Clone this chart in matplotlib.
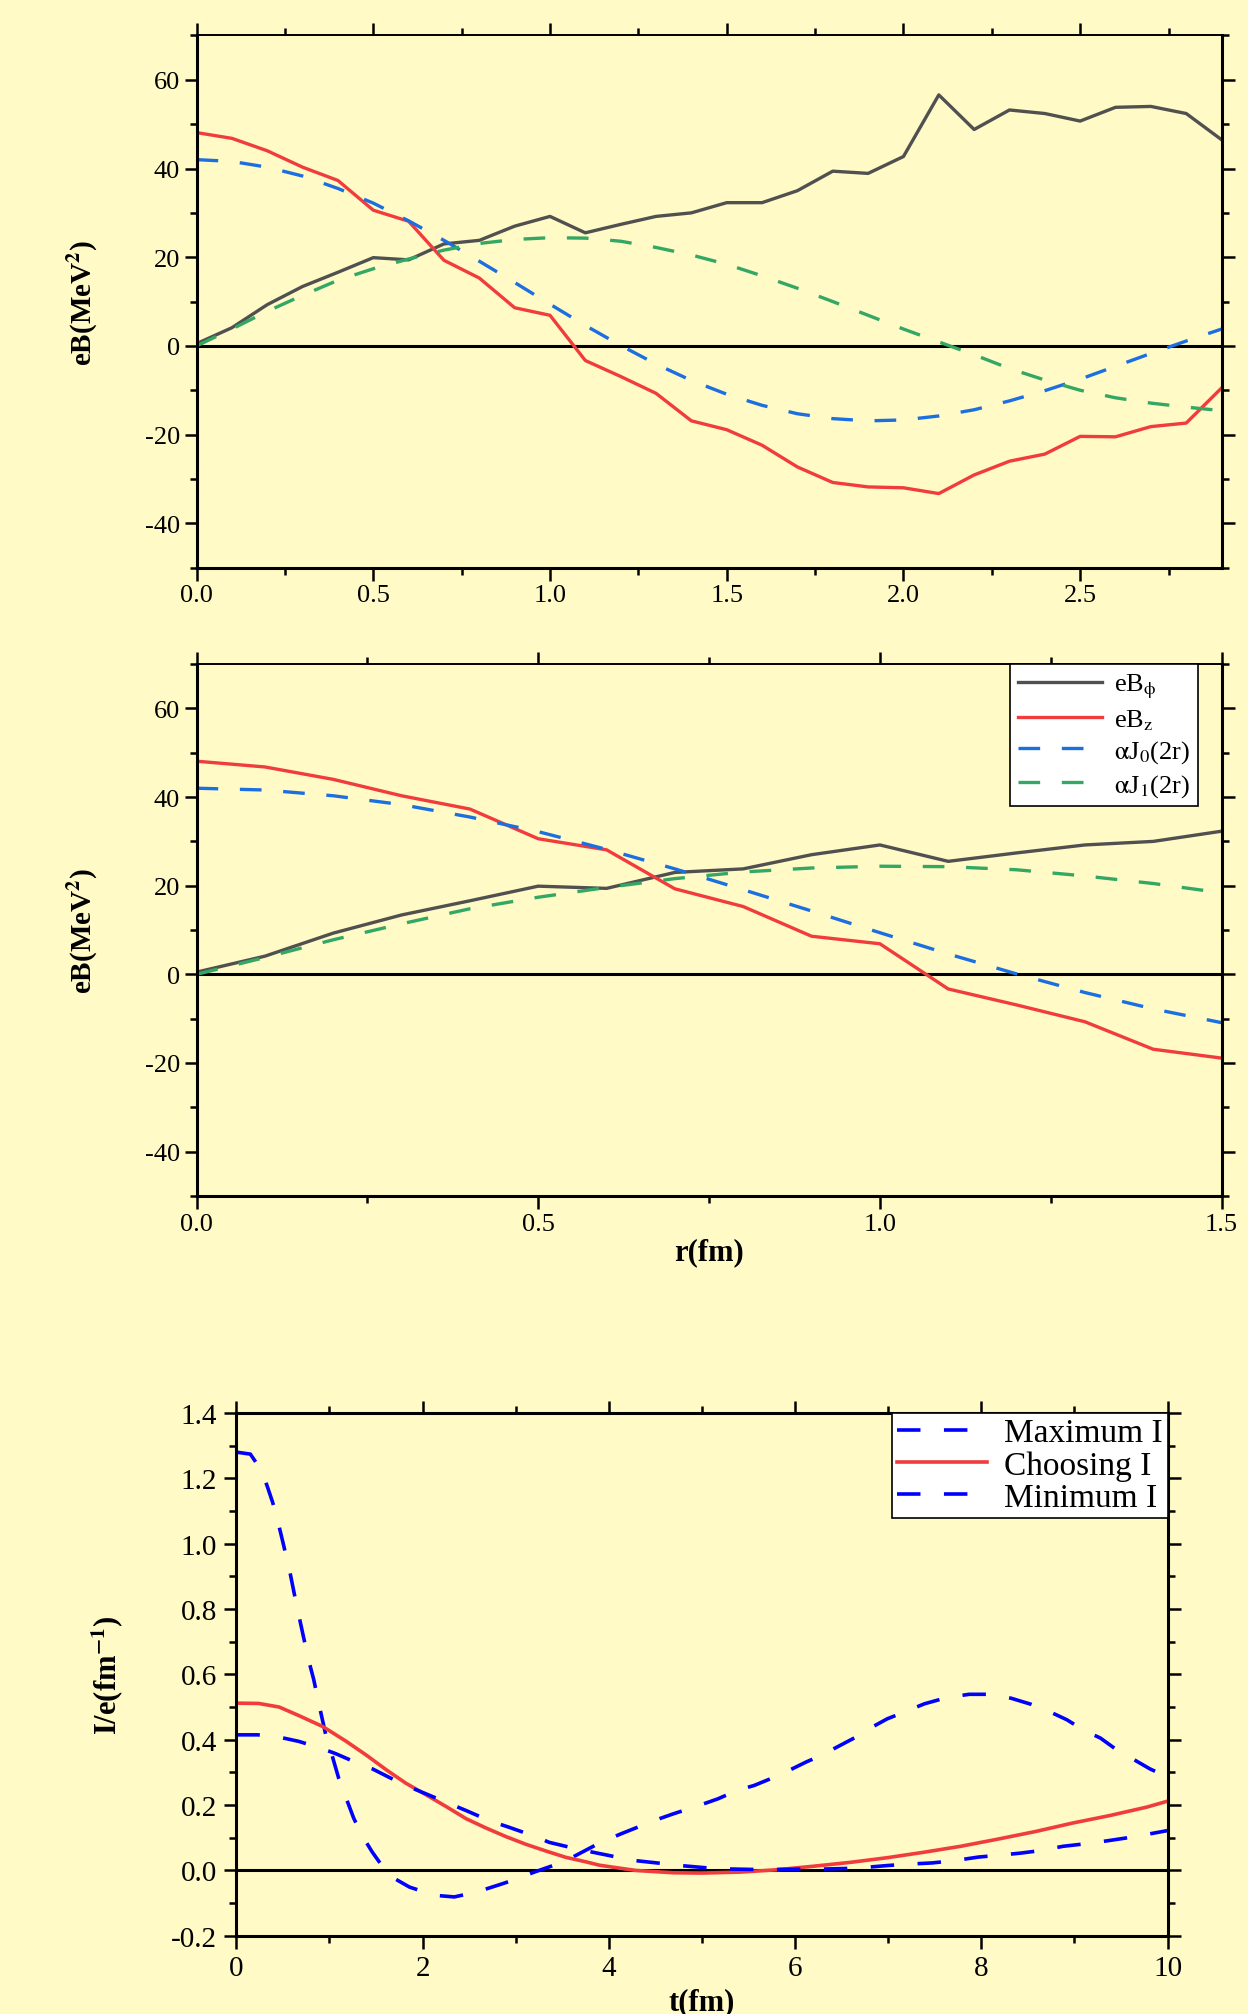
import matplotlib.pyplot as plt
from matplotlib.ticker import MultipleLocator

# ---- field data (top and middle panels share it, middle shows r <= 1.5)
r = [0.0, 0.1, 0.2, 0.3, 0.4, 0.5, 0.6, 0.7, 0.8, 0.9,
     1.0, 1.1, 1.2, 1.3, 1.4, 1.5, 1.6, 1.7, 1.8, 1.9,
     2.0, 2.1, 2.2, 2.3, 2.4, 2.5, 2.6, 2.7, 2.8, 2.9]
eB_phi = [0.5, 4.1, 9.3, 13.4, 16.6, 19.9, 19.4, 23.0, 23.8, 27.0,
          29.2, 25.5, 27.4, 29.2, 30.0, 32.3, 32.3, 35.0, 39.4, 38.9,
          42.7, 56.6, 48.8, 53.2, 52.4, 50.7, 53.8, 54.0, 52.4, 46.5]
eB_z = [48.1, 46.8, 44.0, 40.3, 37.3, 30.6, 28.1, 19.3, 15.3, 8.6,
        6.9, -3.3, -6.9, -10.7, -16.9, -18.9, -22.4, -27.3, -30.8, -31.8,
        -32.0, -33.3, -29.1, -26.0, -24.4, -20.4, -20.5, -18.2, -17.4, -9.5]
aJ0 = [42.0, 41.6, 40.3, 38.3, 35.5, 32.2, 28.2, 23.8, 19.1, 14.3,
       9.4, 4.6, 0.1, -4.1, -7.8, -10.9, -13.4, -15.3, -16.4, -16.9,
       -16.7, -15.8, -14.4, -12.4, -10.1, -7.5, -4.6, -1.7, 1.1, 3.8]
aJ1 = [0.0, 3.8, 7.8, 11.4, 14.8, 17.4, 19.6, 21.6, 23.1, 24.0,
       24.4, 24.3, 23.6, 22.2, 20.5, 18.4, 15.8, 13.0, 10.0, 6.9,
       3.8, 0.9, -2.0, -5.1, -7.7, -10.0, -11.7, -12.9, -13.8, -14.6]
n_mid = 16

# ---- current data (bottom panel)
t_max = [0.0, 0.15, 0.26, 0.33, 0.39, 0.44, 0.50, 0.57, 0.64, 0.71,
         0.77, 0.83, 0.89, 0.96, 1.03, 1.10, 1.17, 1.26, 1.35, 1.46,
         1.55, 1.70, 1.86, 2.13, 2.34, 2.58, 2.81, 2.97, 3.20, 3.40,
         3.58, 3.90, 4.13, 4.49, 4.69, 4.97, 5.17, 5.38, 5.56, 5.74,
         5.92, 6.12, 6.28, 6.48, 6.64, 6.83, 6.99, 7.15, 7.39, 7.63,
         7.87, 8.10, 8.32, 8.54, 8.74, 8.92, 9.10, 9.28, 9.45, 9.61,
         9.81, 10.0]
I_max = [1.280, 1.274, 1.228, 1.177, 1.126, 1.075, 1.004, 0.920, 0.821, 0.729,
         0.650, 0.585, 0.505, 0.415, 0.350, 0.281, 0.228, 0.160, 0.107, 0.056,
         0.020, -0.025, -0.051, -0.076, -0.081, -0.066, -0.045, -0.030, -0.005, 0.015,
         0.036, 0.084, 0.112, 0.153, 0.173, 0.199, 0.219, 0.245, 0.260, 0.281,
         0.304, 0.332, 0.352, 0.382, 0.406, 0.439, 0.464, 0.482, 0.510, 0.529,
         0.539, 0.539, 0.527, 0.508, 0.485, 0.461, 0.429, 0.405, 0.370, 0.344,
         0.311, 0.286]

t_cho = [0.0, 0.24, 0.46, 0.67, 0.93, 1.18, 1.39, 1.61, 1.82, 2.04,
         2.25, 2.47, 2.68, 2.90, 3.11, 3.33, 3.54, 3.76, 3.90, 4.29,
         4.69, 5.0, 5.41, 5.80, 6.20, 6.60, 6.99, 7.39, 7.78, 8.18,
         8.58, 8.98, 9.38, 9.78, 10.0]
I_cho = [0.512, 0.511, 0.500, 0.474, 0.440, 0.395, 0.354, 0.308, 0.267, 0.231,
         0.196, 0.158, 0.130, 0.103, 0.080, 0.059, 0.040, 0.026, 0.016, 0.000,
         -0.007, -0.008, -0.005, 0.002, 0.013, 0.025, 0.039, 0.056, 0.074, 0.096,
         0.119, 0.145, 0.168, 0.194, 0.212]

t_min = [0.0, 0.23, 0.46, 0.67, 0.93, 1.07, 1.28, 1.46, 1.64, 1.82,
         2.04, 2.25, 2.47, 2.72, 2.93, 3.18, 3.36, 3.58, 3.79, 4.05,
         4.29, 4.55, 4.77, 5.05, 5.21, 5.56, 5.78, 6.12, 6.26, 6.54,
         6.74, 6.99, 7.19, 7.47, 7.71, 7.97, 8.17, 8.42, 8.64, 8.88,
         9.10, 9.36, 9.57, 9.81, 10.0]
I_min = [0.415, 0.415, 0.408, 0.395, 0.372, 0.357, 0.331, 0.311, 0.285, 0.260,
         0.234, 0.209, 0.183, 0.152, 0.132, 0.107, 0.086, 0.071, 0.058, 0.043,
         0.030, 0.022, 0.015, 0.008, 0.005, 0.003, 0.003, 0.004, 0.004, 0.006,
         0.009, 0.015, 0.019, 0.023, 0.030, 0.041, 0.046, 0.053, 0.061, 0.074,
         0.081, 0.091, 0.100, 0.112, 0.122]

bg = '#fffac6'
c_black = '#505050'
c_red = '#f03c3c'
c_blue = '#1c6fe0'
c_green = '#33a864'
dash = (0, (6.5, 6.5))

plt.rcParams['font.family'] = 'serif'
plt.rcParams['font.serif'] = ['Liberation Serif', 'DejaVu Serif']
plt.rcParams['mathtext.fontset'] = 'stix'
plt.rcParams['axes.unicode_minus'] = False

fig = plt.figure(figsize=(12.48, 20.15), dpi=100, facecolor=bg)
ax1 = fig.add_axes([0.1575, 0.7178, 0.8213, 0.2641])
ax2 = fig.add_axes([0.1575, 0.4060, 0.8213, 0.2639])
ax3 = fig.add_axes([0.1894, 0.0388, 0.7461, 0.2595])


def style(ax, fs, pad=4):
    ax.set_facecolor(bg)
    for s in ['left', 'bottom', 'right']:
        ax.spines[s].set_linewidth(2.2)
    ax.spines['top'].set_linewidth(1.4)
    ax.tick_params(which='both', direction='out', top=True, right=True,
                   labelsize=fs, width=1.8, pad=pad)
    ax.tick_params(which='major', length=9)
    ax.tick_params(which='minor', length=5)
    ax.axhline(0, color='black', lw=2.2, zorder=1)


# top panel
ax1.plot(r, eB_phi, color=c_black, lw=2.4)
ax1.plot(r, eB_z, color=c_red, lw=2.4)
ax1.plot(r, aJ0, color=c_blue, lw=2.4, ls=dash)
ax1.plot(r, aJ1, color=c_green, lw=2.4, ls=dash)
ax1.set_xlim(0, 2.9)
ax1.set_ylim(-50, 70)
ax1.xaxis.set_major_locator(MultipleLocator(0.5))
ax1.xaxis.set_minor_locator(MultipleLocator(0.25))
ax1.set_yticks([-40, -20, 0, 20, 40, 60])
ax1.yaxis.set_minor_locator(MultipleLocator(10))
ax1.xaxis.set_major_formatter(lambda v, p: f'{v:.1f}')
style(ax1, 19, pad=3)
ax1.set_ylabel(r'eB(MeV$^{\mathbf{2}}$)', fontsize=21, fontweight='bold', labelpad=32)

# middle panel
ax2.plot(r[:n_mid], eB_phi[:n_mid], color=c_black, lw=2.4, label=r'eB$_{\mathrm{\phi}}$')
ax2.plot(r[:n_mid], eB_z[:n_mid], color=c_red, lw=2.4, label=r'eB$_{\mathrm{z}}$')
ax2.plot(r[:n_mid], aJ0[:n_mid], color=c_blue, lw=2.4, ls=dash,
         label=r'$\mathrm{\alpha}$J$_{0}$(2r)')
ax2.plot(r[:n_mid], aJ1[:n_mid], color=c_green, lw=2.4, ls=dash,
         label=r'$\mathrm{\alpha}$J$_{1}$(2r)')
ax2.set_xlim(0, 1.5)
ax2.set_ylim(-50, 70)
ax2.xaxis.set_major_locator(MultipleLocator(0.5))
ax2.xaxis.set_minor_locator(MultipleLocator(0.25))
ax2.set_yticks([-40, -20, 0, 20, 40, 60])
ax2.yaxis.set_minor_locator(MultipleLocator(10))
ax2.xaxis.set_major_formatter(lambda v, p: f'{v:.1f}')
style(ax2, 19, pad=3)
ax2.set_ylabel(r'eB(MeV$^{\mathbf{2}}$)', fontsize=21, fontweight='bold', labelpad=32)
ax2.set_xlabel('r(fm)', fontsize=22, fontweight='bold', labelpad=2)
leg2 = ax2.legend(loc='upper right', bbox_to_anchor=(0.977, 1.0), fontsize=19,
                  handlelength=3.2, handletextpad=0.45, labelspacing=0.25,
                  borderaxespad=0, borderpad=0.3, fancybox=False,
                  framealpha=1, edgecolor='black')
leg2.get_frame().set_linewidth(1.2)

# bottom panel
ax3.plot(t_max, I_max, color='#0000ff', lw=2.6, ls=dash, label='Maximum I')
ax3.plot(t_cho, I_cho, color=c_red, lw=2.6, label='Choosing I')
ax3.plot(t_min, I_min, color='#0000ff', lw=2.6, ls=dash, label='Minimum I')
ax3.set_xlim(0, 10)
ax3.set_ylim(-0.2, 1.4)
ax3.xaxis.set_major_locator(MultipleLocator(2))
ax3.xaxis.set_minor_locator(MultipleLocator(1))
ax3.yaxis.set_major_locator(MultipleLocator(0.2))
ax3.yaxis.set_minor_locator(MultipleLocator(0.1))
ax3.yaxis.set_major_formatter(lambda v, p: f'{v:.1f}')
style(ax3, 21, pad=5)
ax3.spines['top'].set_linewidth(2.2)
ax3.set_ylabel(r'I/e(fm$^{\mathbf{-1}}$)', fontsize=22, fontweight='bold', labelpad=32)
ax3.set_xlabel('t(fm)', fontsize=22, fontweight='bold', labelpad=4)
leg3 = ax3.legend(loc='upper right', fontsize=24, handlelength=2.7,
                  handletextpad=0.5, labelspacing=0.05, borderaxespad=0,
                  borderpad=0.15, fancybox=False, framealpha=1, edgecolor='black')
leg3.get_frame().set_linewidth(1.2)

fig.savefig('out.png', dpi=100, facecolor=bg)
